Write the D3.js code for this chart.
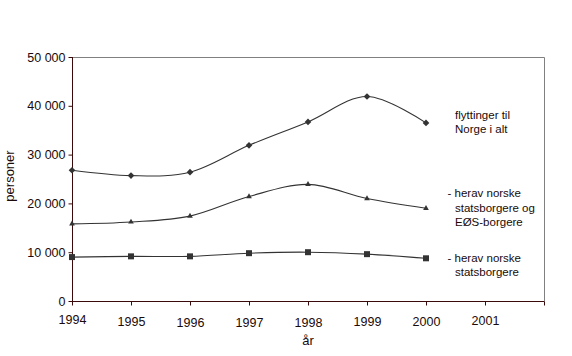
<!DOCTYPE html>
<html><head><meta charset="utf-8">
<script src="https://cdn.jsdelivr.net/npm/d3@7"></script>
<style>body{margin:0;background:#fff}svg{display:block}text{font-family:"Liberation Sans",Arial,sans-serif;fill:#1a0a0a}</style>
</head><body><svg id="c" width="572" height="356"></svg>
<script>
const years = [1994, 1995, 1996, 1997, 1998, 1999, 2000];
const xTickYears = [1994, 1995, 1996, 1997, 1998, 1999, 2000, 2001, 2002];
const xTickLabels = ["1994", "1995", "1996", "1997", "1998", "1999", "2000", "2001", ""];
const yTicks = [0, 10000, 20000, 30000, 40000, 50000];
const totalAll = [26800, 25700, 26400, 31900, 36700, 41900, 36500];
const norskeEos = [15800, 16200, 17400, 21400, 23900, 21000, 19000];
const norske = [9000, 9150, 9150, 9800, 10000, 9600, 8750];
const labelsTotal = ["flyttinger til", "Norge i alt"];
const labelsEos = ["- herav norske", "statsborgere og", "EØS-borgere"];
const labelsNorske = ["- herav norske", "statsborgere"];
const xTitle = "år";
const yTitle = "personer";
// styling: per-label baselines (quirk of the original rendering)
const xLabelBaseline = [323, 325.5, 326, 326, 326, 325, 325, 324, 324];

const svg = d3.select("#c");
const L = 72, R = 544, T = 57, B = 301;
const x = d3.scaleLinear().domain([1994, 2002]).range([L, R]);
const y = d3.scaleLinear().domain([0, 50000]).range([B, T]);
const axisCol = "#3a0a0a", frameCol = "#808080", lineCol = "#333";

svg.append("path").attr("d", `M${L},${T+0.5}H${R+0.5}V${B}`).attr("fill","none").attr("stroke",frameCol).attr("stroke-width",1);

const yAxis = svg.append("g").attr("transform", `translate(${L+0.5},0)`)
  .call(d3.axisLeft(y).tickValues(yTicks).tickSize(4).tickPadding(3)
    .tickFormat(d => d3.format(",")(d).replace(/,/g, " ")));
yAxis.select(".domain").attr("stroke", axisCol).attr("d", `M0,${T}V${B}`);
yAxis.selectAll(".tick line").attr("stroke", axisCol);
yAxis.selectAll(".tick text").attr("font-size", 12.5).attr("font-family", '"Liberation Sans",Arial,sans-serif').attr("fill","#1a0a0a");

const xAxis = svg.append("g").attr("transform", `translate(0,${B+0.5})`)
  .call(d3.axisBottom(x).tickValues(xTickYears).tickSize(4).tickFormat((d,i) => xTickLabels[i]));
xAxis.select(".domain").attr("stroke", axisCol).attr("d", `M${L},0H${R+0.5}`);
xAxis.selectAll(".tick line").attr("stroke", axisCol);
xAxis.selectAll(".tick text").attr("font-size", 12.5).attr("font-family", '"Liberation Sans",Arial,sans-serif').attr("fill","#1a0a0a")
  .attr("dy", null).attr("y", (d,i) => xLabelBaseline[i] - B);

svg.append("text").attr("x", 308).attr("y", 345).attr("text-anchor","middle").attr("font-size",13).text(xTitle);
svg.append("text").attr("transform","translate(14,176) rotate(-90)").attr("text-anchor","middle").attr("font-size",13).text(yTitle);

const line = d3.line().x((d,i) => x(years[i])).y(d => y(d)).curve(d3.curveCatmullRom.alpha(0));
const series = [
  {vals: totalAll, sym: d3.symbolSquare, size: 22, rot: 45},
  {vals: norskeEos, sym: d3.symbolTriangle, size: 14, rot: 0},
  {vals: norske, sym: d3.symbolSquare, size: 36, rot: 0}
];
series.forEach(s => {
  svg.append("path").attr("d", line(s.vals)).attr("fill","none").attr("stroke",lineCol).attr("stroke-width",1.1);
  svg.append("g").selectAll("path").data(s.vals).join("path")
    .attr("transform", (d,i) => `translate(${x(years[i])},${y(d)}) rotate(${s.rot})`)
    .attr("d", d3.symbol().type(s.sym).size(s.size)).attr("fill", lineCol);
});

function block(lines, xs, ys){
  lines.forEach((t,i) => svg.append("text").attr("x", xs[i]).attr("y", ys[i]).attr("font-size", 11.5).text(t));
}
block(labelsTotal, [455, 455], [119, 133]);
block(labelsEos, [447.5, 455, 455], [197, 211.5, 225.5]);
block(labelsNorske, [447.5, 455], [262, 276]);
</script></body></html>
